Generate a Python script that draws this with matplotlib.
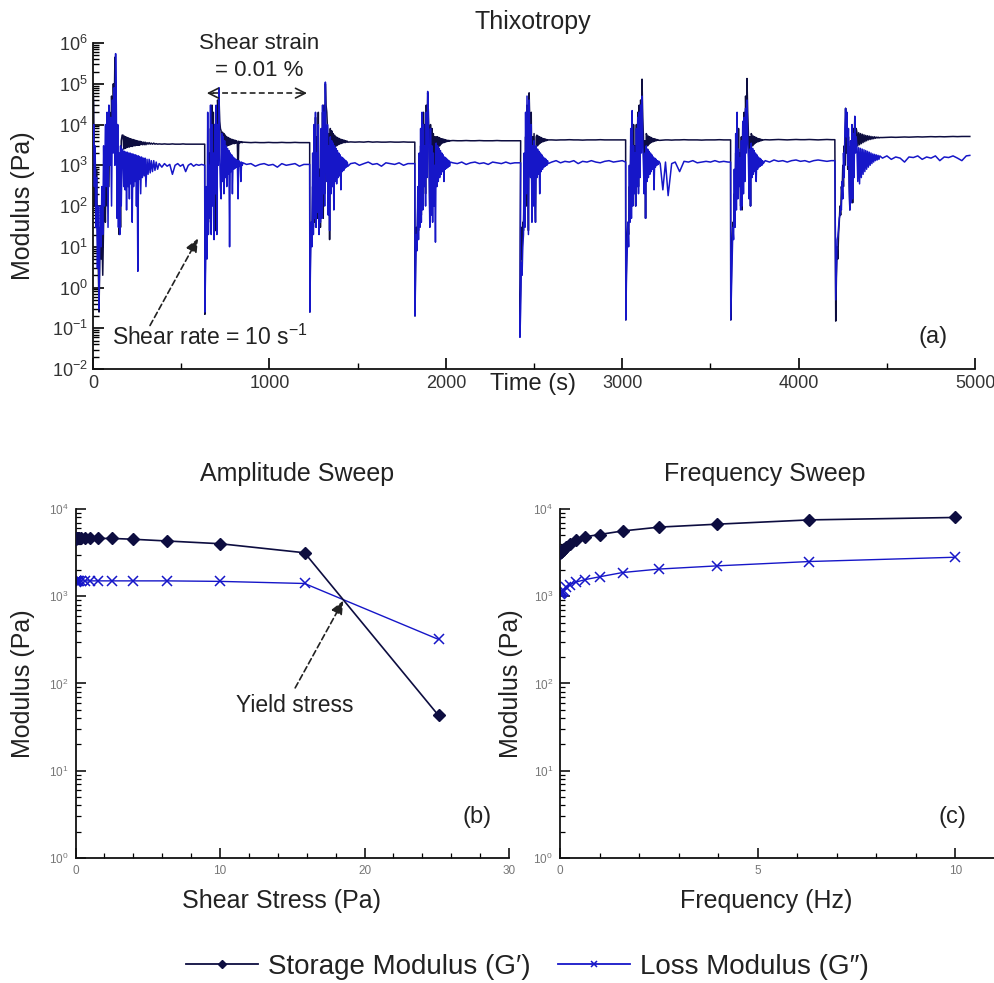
import matplotlib
matplotlib.use('Agg')
import math
import matplotlib.pyplot as plt
from matplotlib.lines import Line2D
from matplotlib.ticker import LogLocator, FixedLocator, MultipleLocator, FuncFormatter, NullFormatter

plt.rcParams['font.family'] = ['Liberation Sans', 'DejaVu Sans']
plt.rcParams['mathtext.fontset'] = 'custom'
plt.rcParams['mathtext.rm'] = 'Liberation Sans'
plt.rcParams['mathtext.it'] = 'Liberation Sans:italic'
plt.rcParams['mathtext.bf'] = 'Liberation Sans:bold'

# ---------------- Thixotropy data (time in s, moduli in Pa) ----------------
# cycle 1
c1_t = [0, 4, 8, 12, 16, 20, 25, 30, 34, 38, 42, 46, 50, 55, 60, 65, 70, 75, 80, 85, 90, 95, 100, 105, 110,
        115, 120, 124, 128, 132, 136, 140, 144, 148, 152, 156, 160, 165,
        170, 174, 178, 182, 186, 190, 194, 198, 202, 206, 210, 214, 218, 222, 226, 230, 234, 238, 242, 246,
        250, 254, 258, 262, 266, 270, 275, 280, 285, 290, 295, 300, 306, 312, 318, 324, 330, 337, 344, 351,
        358, 366,
        375, 390, 405, 420, 435, 450, 465, 480, 495, 510, 525, 540, 555, 570, 585, 600, 615, 633]
c1_Gs = [1.0e5, 3e4, 100, 2e3, 60, 800, 20, 3, 0.25, 5, 30, 5, 25, 2, 40, 500, 40, 3e3, 100, 1e4, 300, 2e4,
         1e3, 5e4, 8e3, 1e5, 2e4, 4.5e5, 6e4, 3e3, 1e4, 50, 200, 20, 2e3, 30, 4e3, 5.5e3,
         5.5e3, 2.5e3, 5.2e3, 2.6e3, 5e3, 2.7e3, 4.8e3, 2.8e3, 4.7e3, 2.8e3, 4.5e3, 2.9e3, 4.4e3, 2.9e3, 4.3e3,
         3e3, 4.2e3, 3e3, 4.1e3, 3.1e3, 4e3, 3.1e3, 3.9e3, 3.1e3, 3.9e3, 3.2e3, 3.8e3, 3.2e3, 3.7e3, 3.2e3,
         3.7e3, 3.2e3, 3.6e3, 3.3e3, 3.6e3, 3.3e3, 3.5e3, 3.3e3, 3.5e3, 3.3e3, 3.4e3, 3.3e3,
         3.35e3, 3.3e3, 3.35e3, 3.3e3, 3.3e3, 3.35e3, 3.3e3, 3.3e3, 3.3e3, 3.35e3, 3.3e3, 3.3e3, 3.3e3, 3.3e3,
         3.3e3, 3.3e3, 3.3e3, 3.3e3]
c1_Gl = [3e3, 1e4, 300, 3e3, 30, 500, 3, 100, 0.3, 10, 100, 10, 300, 20, 3e3, 100, 1e4, 300, 2e4, 30, 3e4,
         1e3, 1.5e4, 100, 4e4, 2e3, 8e4, 1e3, 5.5e5, 3e4, 50, 1e4, 30, 2e3, 20, 3e3, 100, 2.5e3,
         2.2e3, 300, 2.2e3, 250, 2.1e3, 80, 2.1e3, 300, 2e3, 150, 2e3, 350, 1.9e3, 40, 1.9e3, 300, 1.8e3, 400,
         1.8e3, 100, 1.7e3, 2.5, 1.7e3, 450, 1.6e3, 200, 1.6e3, 500, 1.5e3, 550, 1.5e3, 300, 1.4e3, 600,
         1.4e3, 650, 1.3e3, 700, 1.3e3, 750, 1.2e3, 800,
         1.1e3, 900, 1.1e3, 950, 1.05e3, 600, 1e3, 1.1e3, 950, 1.05e3, 700, 1e3, 1.1e3, 950, 1.05e3, 1e3,
         1.05e3, 1e3]
# cycle 2
c2_t = [634, 638, 642, 646, 650, 654, 658, 662, 666, 670, 674, 678, 682, 686, 690, 694, 698, 702, 706, 710,
        714, 718, 722,
        726, 730, 734, 738, 742, 746, 750, 754, 758, 762, 766, 770, 774, 778, 782, 786, 790, 794, 798, 802,
        806, 810, 814, 818, 822, 826, 830, 834, 838, 842, 846, 850,
        870, 895, 920, 945, 970, 995, 1020, 1045, 1070, 1095, 1120, 1145, 1170, 1195, 1228]
c2_Gs = [0.22, 20, 40, 25, 300, 40, 2e3, 50, 8e3, 30, 3e4, 300, 2e4, 60, 1e4, 25, 3e3, 100, 4e4, 1.5e4,
         5e4, 1.2e4, 8e3,
         7e3, 1e3, 6.5e3, 2e3, 6e3, 2.5e3, 5.5e3, 2.8e3, 5e3, 3e3, 4.8e3, 3.1e3, 4.6e3, 3.2e3, 4.4e3, 3.3e3,
         4.3e3, 3.4e3, 4.2e3, 3.4e3, 4.1e3, 3.5e3, 4e3, 3.5e3, 500, 3.9e3, 3.5e3, 3.8e3, 3.6e3, 3.8e3, 3.6e3,
         3.7e3,
         3.65e3, 3.6e3, 3.65e3, 3.6e3, 3.6e3, 3.65e3, 3.6e3, 3.6e3, 3.65e3, 3.6e3, 3.6e3, 3.65e3, 3.6e3,
         3.6e3, 3.6e3]
c2_Gl = [0.25, 3, 300, 5, 2e4, 20, 1e3, 50, 3e4, 20, 1e4, 100, 2e3, 15, 1e4, 200, 3e4, 20, 1e4, 1e3,
         8e4, 2e3, 300,
         150, 6e3, 400, 5e3, 200, 4e3, 500, 3e3, 300, 2.6e3, 600, 2.3e3, 10, 2e3, 700, 1.8e3, 200, 1.6e3, 800,
         1.5e3, 850, 1.4e3, 900, 1.3e3, 150, 1.3e3, 950, 1.2e3, 400, 1.2e3, 1e3, 1.15e3,
         1.05e3, 1.1e3, 950, 1.05e3, 1.1e3, 1e3, 1.05e3, 900, 1.1e3, 1e3, 1.05e3, 1.1e3, 950, 1.05e3, 1.05e3]
# cycle 3
c3_t = [1229, 1233, 1237, 1241, 1245, 1249, 1253, 1257, 1261, 1265, 1269, 1273, 1277, 1281, 1285, 1289, 1293,
        1297, 1301, 1305, 1309, 1313, 1317, 1321, 1325, 1329, 1333, 1337, 1341,
        1345, 1349, 1353, 1357, 1361, 1365, 1369, 1373, 1377, 1381, 1385, 1389, 1393, 1397, 1401, 1405, 1409,
        1413, 1417, 1421, 1425, 1429, 1433, 1437, 1441, 1445,
        1460, 1485, 1510, 1535, 1560, 1585, 1610, 1635, 1660, 1685, 1710, 1735, 1760, 1785, 1810, 1824]
c3_Gs = [0.25, 15, 40, 20, 300, 30, 2e3, 40, 1.5e4, 30, 5e3, 50, 2e4, 40, 800, 30, 3e3, 100, 2e4, 50, 3e4,
         200, 1e5, 3e4, 2e4, 8e3, 100, 6e3, 15,
         8e3, 1.5e3, 7e3, 2e3, 6e3, 2.5e3, 5.5e3, 2.8e3, 5e3, 3e3, 4.8e3, 3.2e3, 4.6e3, 3.3e3, 4.4e3, 3.4e3,
         4.3e3, 3.5e3, 4.2e3, 3.6e3, 4.1e3, 3.6e3, 4e3, 3.7e3, 3.9e3, 3.7e3,
         3.75e3, 3.7e3, 3.75e3, 3.7e3, 3.8e3, 3.7e3, 3.75e3, 3.7e3, 3.7e3, 3.75e3, 3.7e3, 3.7e3, 3.75e3,
         3.7e3, 3.7e3, 3.7e3]
c3_Gl = [0.25, 5, 40, 10, 2e3, 20, 1e4, 50, 2e4, 30, 2e3, 70, 1e4, 20, 500, 40, 8e3, 50, 3e4, 200, 2e4,
         100, 1.1e5, 2e3, 400, 1e4, 60, 3e3, 25,
         5e3, 200, 4e3, 300, 3.5e3, 80, 3e3, 400, 2.6e3, 350, 2.3e3, 500, 2e3, 550, 1.8e3, 250, 1.6e3, 700,
         1.5e3, 750, 1.4e3, 850, 1.3e3, 900, 1.2e3, 950,
         1.1e3, 1.15e3, 1e3, 1.1e3, 1.2e3, 1.05e3, 1.1e3, 950, 1.15e3, 1.1e3, 1.05e3, 1.15e3, 1e3, 1.1e3,
         1.1e3, 1.1e3]
# cycle 4
c4_t = [1825, 1829, 1833, 1837, 1841, 1845, 1849, 1853, 1857, 1861, 1865, 1869, 1873, 1877, 1881, 1885, 1889,
        1893, 1897, 1901, 1905, 1909, 1913, 1917, 1921, 1925, 1929, 1933, 1937, 1941,
        1945, 1949, 1953, 1957, 1961, 1965, 1969, 1973, 1977, 1981, 1985, 1989, 1993, 1997, 2001, 2005, 2009,
        2013, 2017, 2021, 2025,
        2040, 2065, 2090, 2115, 2140, 2165, 2190, 2215, 2240, 2265, 2290, 2315, 2340, 2365, 2390, 2424]
c4_Gs = [0.2, 10, 30, 15, 100, 25, 500, 40, 3e3, 60, 1e4, 100, 2e4, 400, 1e4, 200, 3e4, 1e3, 6e4, 2e4, 3e3,
         50, 1e4, 100, 8e3, 200, 6e3, 300, 5e3, 1e3,
         5e3, 2e3, 5e3, 2.5e3, 4.8e3, 3e3, 4.6e3, 3.3e3, 4.5e3, 3.5e3, 4.4e3, 3.6e3, 4.3e3, 3.7e3, 4.2e3, 3.8e3,
         4.1e3, 3.9e3, 4.1e3, 3.9e3, 4e3,
         4.05e3, 4e3, 4e3, 4.05e3, 4e3, 4e3, 4.05e3, 4e3, 4e3, 4e3, 4.05e3, 4e3, 4e3, 4e3, 4e3, 4e3]
c4_Gl = [0.2, 3, 20, 8, 300, 15, 2e3, 30, 8e3, 40, 2e4, 80, 1e4, 300, 3e3, 100, 2e4, 500, 6.5e4, 1e4, 1e3,
         30, 8e3, 60, 3e3, 40, 2e3, 100, 1e3, 13,
         3.5e3, 300, 3e3, 400, 2.6e3, 500, 2.3e3, 600, 2e3, 700, 1.8e3, 400, 1.6e3, 800, 1.5e3, 850, 1.4e3,
         900, 1.3e3, 950, 1.2e3,
         1.15e3, 1.1e3, 1.2e3, 1.05e3, 1.15e3, 1.2e3, 1.1e3, 1.15e3, 1.05e3, 1.2e3, 1.15e3, 1.1e3, 1.2e3,
         1.1e3, 1.15e3, 1.15e3]
# cycle 5
c5_t = [2420, 2424, 2428, 2432, 2436, 2440, 2444, 2448, 2452, 2456, 2460, 2464, 2468, 2472, 2476, 2480, 2484,
        2488, 2492, 2496, 2500, 2504, 2508, 2512,
        2516, 2520, 2524, 2528, 2532, 2536, 2540, 2544, 2548, 2552, 2556, 2560, 2564, 2568, 2572, 2576, 2580,
        2600, 2625, 2650, 2675, 2700, 2725, 2750, 2775, 2800, 2825, 2850, 2875, 2900, 2925, 2950, 2975, 3000,
        3019]
c5_Gs = [0.2, 1, 30, 5, 40, 25, 300, 50, 5e3, 100, 3e4, 2e3, 25, 6e4, 1e4, 3e3, 2e4, 80, 5e3, 300, 6e3, 500,
         40, 5e3,
         5.5e3, 3e3, 5.2e3, 3.3e3, 5e3, 3.5e3, 4.8e3, 3.7e3, 4.6e3, 3.8e3, 4.5e3, 3.9e3, 4.4e3, 4e3, 4.3e3,
         4.1e3, 4.2e3,
         4.2e3, 4.15e3, 4.2e3, 4.2e3, 4.25e3, 4.2e3, 4.2e3, 4.15e3, 4.2e3, 4.2e3, 4.2e3, 4.25e3, 4.2e3, 4.2e3,
         4.2e3, 4.2e3, 4.2e3, 4.2e3]
c5_Gl = [0.06, 0.3, 4, 2, 10, 20, 2e3, 30, 2e4, 200, 5e4, 1e3, 20, 4e4, 3e3, 500, 1e4, 40, 3e3, 100, 4e3,
         200, 40, 3e3,
         500, 2.5e3, 600, 2.2e3, 200, 2e3, 700, 1.8e3, 800, 1.6e3, 900, 1.5e3, 950, 1.4e3, 1e3, 1.3e3, 1.1e3,
         1.2e3, 1.3e3, 1.15e3, 1.25e3, 1.2e3, 1.3e3, 1.1e3, 1.25e3, 1.2e3, 1.3e3, 1.2e3, 1.15e3, 1.25e3,
         1.3e3, 1.2e3, 1.25e3, 1.3e3, 1.2e3]
# cycle 6
c6_t = [3020, 3024, 3028, 3032, 3036, 3040, 3044, 3048, 3052, 3056, 3060, 3064, 3068, 3072, 3076, 3080, 3084,
        3088, 3092, 3096, 3100, 3104, 3108, 3112, 3116, 3120, 3124, 3128, 3132, 3136,
        3140, 3144, 3148, 3152, 3156, 3160, 3164, 3168, 3172, 3176, 3180, 3184, 3188, 3192, 3196, 3200, 3204,
        3208,
        3215, 3230, 3245, 3260, 3280, 3300, 3325, 3350, 3375, 3400, 3425, 3450, 3475, 3500, 3525, 3550, 3575,
        3600, 3614]
c6_Gs = [0.16, 5, 20, 40, 20, 300, 50, 3e3, 100, 2e4, 200, 1e4, 300, 3e3, 100, 1e4, 500, 2e4, 300, 3e4, 1e3,
         4e4, 5e3, 1.3e5, 1.5e4, 5e3, 300, 4e3, 50, 6e3,
         5.5e3, 3e3, 5.2e3, 3.3e3, 5e3, 3.5e3, 4.8e3, 3.7e3, 4.6e3, 3.8e3, 4.5e3, 3.9e3, 4.4e3, 4e3, 4.3e3,
         4.1e3, 4.2e3, 4.1e3,
         4.1e3, 4.15e3, 4.2e3, 4.2e3, 4.15e3, 4.2e3, 4.2e3, 4.25e3, 4.2e3, 4.2e3, 4.2e3, 4.15e3, 4.2e3, 4.2e3,
         4.2e3, 4.25e3, 4.2e3, 4.2e3, 4.2e3]
c6_Gl = [0.16, 2, 8, 40, 10, 1e3, 40, 8e3, 50, 2.2e4, 100, 3e3, 200, 2e3, 100, 8e3, 300, 1.5e4, 200, 2e4,
         500, 3e4, 2e3, 5e4, 4e3, 1e3, 200, 2e3, 50, 3e3,
         400, 2.5e3, 500, 2.2e3, 600, 2e3, 700, 1.8e3, 800, 1.6e3, 250, 1.5e3, 900, 1.4e3, 1e3, 1.3e3, 1.05e3,
         1.25e3,
         1.1e3, 250, 1.2e3, 180, 1.1e3, 1.2e3, 700, 1.25e3, 1.2e3, 1.3e3, 1.15e3, 1.2e3, 1.25e3, 1.2e3, 1.3e3,
         1.2e3, 1.25e3, 1.2e3, 1.2e3]
# cycle 7
c7_t = [3615, 3619, 3623, 3627, 3631, 3635, 3639, 3643, 3647, 3651, 3655, 3659, 3663, 3667, 3671, 3675, 3679,
        3683, 3687, 3691, 3695, 3699, 3703, 3707, 3711, 3715, 3719, 3723, 3727, 3731,
        3735, 3739, 3743, 3747, 3751, 3755, 3759, 3763, 3767, 3771, 3775, 3779, 3783, 3787, 3791, 3795, 3799,
        3810, 3835, 3860, 3885, 3910, 3935, 3960, 3985, 4010, 4035, 4060, 4085, 4110, 4135, 4160, 4185, 4205]
c7_Gs = [0.16, 3, 15, 40, 30, 200, 60, 2e3, 200, 1.8e4, 300, 8e3, 500, 2e3, 100, 5e3, 80, 1e4, 400, 2e4, 1e3,
         5e4, 8e3, 1.35e5, 2e4, 6e3, 400, 5e3, 100, 6e3,
         5.5e3, 3e3, 5.2e3, 3.3e3, 5e3, 3.5e3, 4.8e3, 3.7e3, 4.6e3, 3.8e3, 4.5e3, 3.9e3, 4.4e3, 4e3, 4.3e3,
         4.1e3, 4.2e3,
         4.25e3, 4.2e3, 4.25e3, 4.3e3, 4.25e3, 4.2e3, 4.25e3, 4.3e3, 4.25e3, 4.25e3, 4.3e3, 4.25e3, 4.2e3,
         4.25e3, 4.3e3, 4.25e3, 4.25e3]
c7_Gl = [0.16, 1, 6, 30, 15, 800, 30, 6e3, 80, 2e4, 150, 2.5e3, 300, 1.5e3, 80, 4e3, 100, 1.2e4, 200, 1.5e4,
         400, 2.5e4, 2e3, 4e4, 5e3, 1.5e3, 150, 2.5e3, 100, 3.5e3,
         500, 2.6e3, 600, 2.3e3, 700, 2e3, 400, 1.8e3, 800, 1.6e3, 900, 1.5e3, 950, 1.4e3, 1e3, 1.3e3, 1.1e3,
         1.3e3, 1.2e3, 1.35e3, 1.25e3, 1.3e3, 1.2e3, 1.3e3, 1.35e3, 1.25e3, 1.3e3, 1.2e3, 1.3e3, 1.35e3,
         1.3e3, 1.25e3, 1.3e3, 1.3e3]
# cycle 8
c8_t = [4210, 4214, 4218, 4222, 4226, 4230, 4234, 4238, 4242, 4246, 4250, 4254, 4258, 4262, 4266, 4270, 4274,
        4278, 4282, 4286, 4290, 4294, 4298, 4302, 4306, 4310, 4314, 4318, 4322, 4326,
        4330, 4335, 4340, 4345, 4350, 4355, 4360, 4365, 4370, 4375, 4380, 4385, 4390, 4395, 4400, 4405, 4410,
        4415, 4420, 4425, 4430, 4435, 4440, 4445, 4450, 4455, 4460,
        4475, 4500, 4525, 4550, 4575, 4600, 4625, 4650, 4675, 4700, 4725, 4750, 4775, 4800, 4825, 4850, 4875,
        4900, 4925, 4950, 4970]
c8_Gs = [0.15, 2, 10, 5, 20, 40, 100, 60, 300, 200, 1e3, 300, 3e3, 1e3, 2.5e4, 2e3, 1e4, 800, 5e3, 500, 80,
         3e3, 400, 5e3, 120, 8e3, 1e3, 1.5e4, 3e3, 8e3,
         6.5e3, 3e3, 6.3e3, 3.2e3, 6e3, 3.4e3, 5.8e3, 3.6e3, 5.6e3, 3.8e3, 5.4e3, 4e3, 5.3e3, 4.2e3, 5.2e3,
         4.3e3, 5.1e3, 4.4e3, 5e3, 4.5e3, 5e3, 4.6e3, 4.9e3, 4.7e3, 4.9e3, 4.7e3, 4.8e3,
         4.8e3, 4.85e3, 4.9e3, 4.85e3, 4.9e3, 4.95e3, 4.9e3, 4.95e3, 5e3, 4.95e3, 5e3, 5.05e3, 5e3, 5.05e3,
         5e3, 5.05e3, 5.1e3, 5.05e3, 5.1e3, 5.1e3, 5.1e3]
c8_Gl = [0.5, 3, 15, 18, 30, 50, 60, 100, 80, 400, 150, 2e3, 500, 8e3, 2.5e4, 5e3, 2e4, 1e3, 8e3, 300, 80,
         4e3, 120, 1e4, 150, 6e3, 500, 1.6e4, 2e3, 5e3,
         2.8e3, 400, 2.7e3, 350, 2.6e3, 500, 2.5e3, 600, 2.4e3, 700, 2.3e3, 800, 2.2e3, 900, 2.1e3, 1e3, 2e3,
         1.1e3, 1.9e3, 1.2e3, 1.85e3, 1.3e3, 1.8e3, 1.35e3, 1.75e3, 1.4e3, 1.7e3,
         1.5e3, 1.7e3, 1.4e3, 1.6e3, 1.5e3, 1.2e3, 1.6e3, 1.55e3, 1.7e3, 1.4e3, 1.6e3, 1.5e3, 1.7e3, 1.3e3,
         1.6e3, 1.55e3, 1.7e3, 1.5e3, 1.3e3, 1.7e3, 1.75e3]

thix_time = c1_t + c2_t + c3_t + c4_t + c5_t + c6_t + c7_t + c8_t
thix_storage = c1_Gs + c2_Gs + c3_Gs + c4_Gs + c5_Gs + c6_Gs + c7_Gs + c8_Gs
thix_loss = c1_Gl + c2_Gl + c3_Gl + c4_Gl + c5_Gl + c6_Gl + c7_Gl + c8_Gl

# ---------------- Amplitude sweep ----------------
amp_stress = [0.01, 0.0158, 0.0251, 0.0398, 0.0631, 0.1, 0.158, 0.251, 0.398, 0.631, 1.0, 1.585, 2.512,
              3.981, 6.31, 10.0, 15.85, 25.12]
amp_storage = [4.5e3, 4.6e3, 4.6e3, 4.6e3, 4.6e3, 4.6e3, 4.6e3, 4.6e3, 4.6e3, 4.6e3, 4.6e3, 4.6e3, 4.6e3,
               4.5e3, 4.3e3, 4.0e3, 3.15e3, 43]
amp_loss = [1.45e3, 1.5e3, 1.5e3, 1.5e3, 1.5e3, 1.5e3, 1.5e3, 1.5e3, 1.5e3, 1.5e3, 1.5e3, 1.5e3, 1.5e3,
            1.5e3, 1.5e3, 1.48e3, 1.4e3, 320]

# ---------------- Frequency sweep ----------------
freq_hz = [0.01, 0.0158, 0.0251, 0.0398, 0.0631, 0.1, 0.158, 0.251, 0.398, 0.631, 1.0, 1.585, 2.512, 3.981,
           6.31, 10.0]
freq_storage = [3.1e3, 3.2e3, 3.25e3, 3.3e3, 3.4e3, 3.45e3, 3.7e3, 4.0e3, 4.4e3, 4.8e3, 5.1e3, 5.6e3, 6.2e3,
                6.7e3, 7.5e3, 8.0e3]
freq_loss = [1.05e3, 1.08e3, 1.1e3, 1.12e3, 1.14e3, 1.15e3, 1.28e3, 1.36e3, 1.45e3, 1.55e3, 1.67e3, 1.87e3,
             2.05e3, 2.23e3, 2.5e3, 2.8e3]

legend_labels = ['Storage Modulus (G\u2032)', 'Loss Modulus (G\u2033)']

C_STORE = '#0d0d40'
C_LOSS = '#1616c8'
TXT = '#222222'

fig = plt.figure(figsize=(9.95, 9.83), dpi=100)


def pow_fmt(v, pos):
    e = int(round(math.log10(v)))
    return r'$10^{%d}$' % e


def style_axis(ax):
    for s in ['top', 'right']:
        ax.spines[s].set_visible(False)
    for s in ['left', 'bottom']:
        ax.spines[s].set_linewidth(1.3)
        ax.spines[s].set_color('#111111')


# ---------------- Panel (a) ----------------
axa = fig.add_axes([0.0935, 0.6246, 0.8865, 0.3316])
style_axis(axa)
axa.plot(thix_time, thix_storage, color=C_STORE, lw=1.1, zorder=2)
axa.plot(thix_time, thix_loss, color=C_LOSS, lw=1.1, zorder=3)
axa.set_yscale('log')
axa.set_ylim(1e-2, 1e6)
axa.set_xlim(0, 5000)
axa.xaxis.set_major_locator(MultipleLocator(1000))
axa.xaxis.set_minor_locator(MultipleLocator(500))
axa.yaxis.set_major_locator(LogLocator(base=10, numticks=20))
axa.yaxis.set_minor_locator(LogLocator(base=10, subs=range(2, 10), numticks=20))
axa.yaxis.set_major_formatter(FuncFormatter(pow_fmt))
axa.yaxis.set_minor_formatter(NullFormatter())
axa.tick_params(axis='both', which='major', direction='in', length=8, width=1.2, labelsize=13,
                labelcolor='#333333', pad=4)
axa.tick_params(axis='both', which='minor', direction='in', length=4, width=1.0)
axa.set_ylabel('Modulus (Pa)', fontsize=18, color=TXT)
axa.yaxis.set_label_coords(-0.066, 0.5)
axa.set_xlabel('Time (s)', fontsize=17, color=TXT)
axa.xaxis.set_label_coords(0.499, -0.012)

axa.text(941, 9.5e5, 'Shear strain', fontsize=16, color=TXT, ha='center', va='center')
axa.text(941, 2.1e5, '= 0.01 %', fontsize=16, color=TXT, ha='center', va='center')
axa.plot([680, 1180], [5.9e4, 5.9e4], color=TXT, lw=1.2, ls=(0, (3.5, 2.0)))
axa.annotate('', xy=(629, 5.9e4), xytext=(700, 5.9e4),
             arrowprops=dict(arrowstyle='->,head_length=0.7,head_width=0.35', color=TXT, lw=1.2))
axa.annotate('', xy=(1229, 5.9e4), xytext=(1160, 5.9e4),
             arrowprops=dict(arrowstyle='->,head_length=0.7,head_width=0.35', color=TXT, lw=1.2))
axa.annotate('', xy=(595, 16), xytext=(323, 0.117),
             arrowprops=dict(arrowstyle='-|>,head_length=0.8,head_width=0.35', color=TXT, lw=1.2,
                             ls=(0, (3.5, 2.0)), shrinkA=0, shrinkB=0))
axa.text(108, 0.06, r'Shear rate = 10 s$^{\mathregular{-1}}$', fontsize=16.5, color=TXT, ha='left',
         va='center')
axa.text(4759, 0.062, '(a)', fontsize=17, color=TXT, ha='center', va='center')
fig.text(0.535, 0.9776, 'Thixotropy', fontsize=18, color=TXT, ha='center', va='center')


def style_bottom(ax):
    style_axis(ax)
    ax.set_yscale('log')
    ax.set_ylim(1, 1e4)
    ax.yaxis.set_major_locator(LogLocator(base=10, numticks=10))
    ax.yaxis.set_minor_locator(LogLocator(base=10, subs=range(2, 10), numticks=10))
    ax.yaxis.set_major_formatter(FuncFormatter(pow_fmt))
    ax.yaxis.set_minor_formatter(NullFormatter())
    ax.tick_params(axis='both', which='major', direction='in', length=7, width=1.1, labelsize=8.5,
                   labelcolor='#777777', pad=5)
    ax.tick_params(axis='both', which='minor', direction='in', length=3.5, width=0.9)


# ---------------- Panel (b) ----------------
axb = fig.add_axes([0.0759, 0.1272, 0.4357, 0.355])
style_bottom(axb)
axb.plot(amp_stress, amp_storage, color=C_STORE, lw=1.2, marker='D', ms=6.5, mfc=C_STORE, mec=C_STORE,
         zorder=3)
axb.plot(amp_stress, amp_loss, color=C_LOSS, lw=1.0, marker='x', ms=7, mew=1.1, zorder=2)
axb.set_xlim(0, 30)
axb.xaxis.set_major_locator(MultipleLocator(10))
axb.xaxis.set_minor_locator(MultipleLocator(2))
axb.set_ylabel('Modulus (Pa)', fontsize=18, color=TXT)
axb.yaxis.set_label_coords(-0.093, 0.5)
axb.set_xlabel('Shear Stress (Pa)', fontsize=18, color=TXT)
axb.xaxis.set_label_coords(0.476, -0.09)
axb.annotate('', xy=(18.53, 890), xytext=(15.2, 89),
             arrowprops=dict(arrowstyle='-|>,head_length=0.8,head_width=0.35', color=TXT, lw=1.2,
                             ls=(0, (3.5, 2.0)), shrinkA=0, shrinkB=0))
axb.text(15.2, 56, 'Yield stress', fontsize=16.5, color=TXT, ha='center', va='center')
axb.text(27.8, 2.95, '(b)', fontsize=17, color=TXT, ha='center', va='center')
fig.text(0.2985, 0.5178, 'Amplitude Sweep', fontsize=18, color=TXT, ha='center', va='center')

# ---------------- Panel (c) ----------------
axc = fig.add_axes([0.5628, 0.1272, 0.437, 0.355])
style_bottom(axc)
axc.plot(freq_hz, freq_storage, color=C_STORE, lw=1.2, marker='D', ms=6.5, mfc=C_STORE, mec=C_STORE,
         zorder=3)
axc.plot(freq_hz, freq_loss, color=C_LOSS, lw=1.0, marker='x', ms=7, mew=1.1, zorder=2)
axc.set_xlim(0, 11)
axc.xaxis.set_major_locator(FixedLocator([0, 5, 10]))
axc.xaxis.set_minor_locator(MultipleLocator(1))
axc.set_ylabel('Modulus (Pa)', fontsize=18, color=TXT)
axc.yaxis.set_label_coords(-0.085, 0.5)
axc.set_xlabel('Frequency (Hz)', fontsize=18, color=TXT)
axc.xaxis.set_label_coords(0.474, -0.09)
axc.text(9.92, 2.95, '(c)', fontsize=17, color=TXT, ha='center', va='center')
fig.text(0.769, 0.5178, 'Frequency Sweep', fontsize=18, color=TXT, ha='center', va='center')

# ---------------- Legend ----------------
handles = [Line2D([], [], color=C_STORE, lw=1.3, marker='D', ms=4.5, mfc=C_STORE, mec=C_STORE),
           Line2D([], [], color=C_LOSS, lw=1.3, marker='x', ms=5, mew=1.1)]
fig.legend(handles, legend_labels, loc='center', bbox_to_anchor=(0.53, 0.0165), ncol=2, frameon=False,
           fontsize=20, handlelength=2.6, handletextpad=0.35, columnspacing=1.0, labelcolor=TXT)

fig.savefig('out.png', dpi=100)
